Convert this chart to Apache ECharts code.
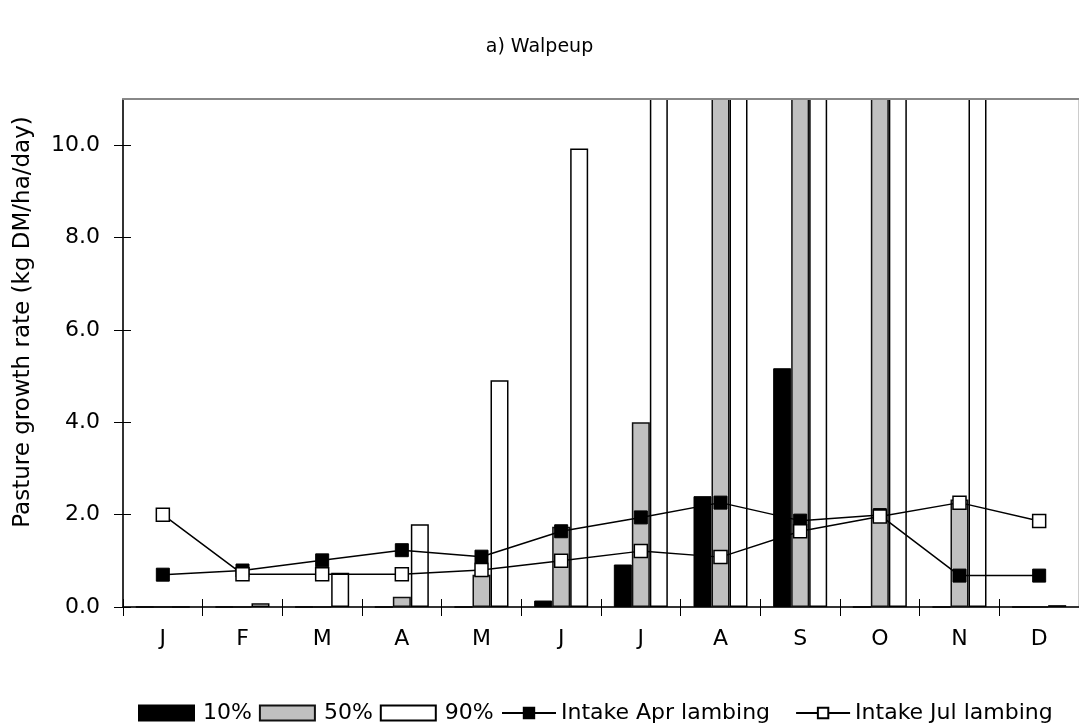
<!DOCTYPE html>
<html>
<head>
<meta charset="utf-8">
<script src="https://cdn.jsdelivr.net/npm/echarts@6/dist/echarts.min.js"></script>
<style>
html,body{margin:0;padding:0;background:#fff;}
#chart{width:1079px;height:726px;}
</style>
</head>
<body>
<div id="chart"></div>
<script>
// ---- data ----
const months = ['J','F','M','A','M','J','J','A','S','O','N','D'];
// percentile pasture growth rates; values above 11 run off the top of the plot
const p10 = [0, 0, 0, 0, 0, 0.14, 0.92, 2.40, 5.17, 0, 0, 0];
const p50 = [0, 0, 0, 0.22, 0.70, 1.74, 4.00, 14, 14, 14, 2.33, 0];
const p90 = [0, 0.08, 0.74, 1.79, 4.91, 9.93, 14, 14, 14, 14, 14, 0.04];
const intakeApr = [0.70, 0.79, 1.01, 1.23, 1.09, 1.64, 1.94, 2.26, 1.87, 1.99, 0.68, 0.68];
const intakeJul = [2.00, 0.71, 0.71, 0.71, 0.80, 1.00, 1.21, 1.08, 1.64, 1.96, 2.26, 1.86];
const yTicks = [0, 2, 4, 6, 8, 10];
const seriesNames = ['10%', '50%', '90%', 'Intake Apr lambing', 'Intake Jul lambing'];

const FONT = 'DejaVu Sans';
const chart = echarts.init(document.getElementById('chart'));

const barCommon = {type: 'bar', barWidth: 18, barGap: '0%', xAxisIndex: 0, yAxisIndex: 0};

chart.setOption({
  animation: false,
  backgroundColor: '#fff',
  textStyle: {fontFamily: FONT, color: '#000'},
  title: {
    text: 'a) Walpeup', left: 'center', top: 33,
    textStyle: {fontFamily: FONT, fontSize: 19, fontWeight: 'normal', color: '#000'}
  },
  grid: {left: 123, right: 0, top: 99, bottom: 119, show: true,
         borderColor: '#999', borderWidth: 1, backgroundColor: 'transparent'},
  legend: [
    {
      data: seriesNames.slice(0, 3).map(n => ({name: n, icon: 'rect'})), left: 133, top: 697,
      itemWidth: 55, itemHeight: 15, itemGap: 7,
      textStyle: {fontFamily: FONT, fontSize: 22, color: '#000', padding: [0, 0, 0, 4]}
    },
    {
      data: seriesNames.slice(3), left: 496, top: 697,
      itemWidth: 54, itemHeight: 13, itemGap: 25,
      textStyle: {fontFamily: FONT, fontSize: 22, color: '#000'}
    }
  ],
  xAxis: [
    {
      type: 'category', data: months, position: 'bottom',
      axisLine: {lineStyle: {color: '#000', width: 1.5}},
      axisTick: {show: true, length: 9, lineStyle: {color: '#000', width: 1}},
      axisLabel: {fontFamily: FONT, fontSize: 22, color: '#000', margin: 21},
      splitLine: {show: false}
    },
    {
      type: 'category', data: months, position: 'bottom',
      axisLine: {show: false},
      axisTick: {show: true, inside: true, length: 8, lineStyle: {color: '#000', width: 1}},
      axisLabel: {show: false},
      splitLine: {show: false}
    },
    {
      type: 'category', data: months, position: 'top', z: 10,
      axisLine: {show: true, lineStyle: {color: '#888', width: 2}},
      axisTick: {show: false},
      axisLabel: {show: false},
      splitLine: {show: false}
    }
  ],
  yAxis: [
    {
      type: 'value', min: 0, max: 11, interval: 2, position: 'left',
      axisLine: {show: true, lineStyle: {color: '#000', width: 1.5}},
      axisTick: {show: true, length: 9, customValues: yTicks, lineStyle: {color: '#000', width: 1}},
      axisLabel: {fontFamily: FONT, fontSize: 22, color: '#000', margin: 23,
                  customValues: yTicks, formatter: v => v.toFixed(1)},
      splitLine: {show: false}
    },
    {
      type: 'value', min: 0, max: 11, interval: 2, position: 'left',
      axisLine: {show: false},
      axisTick: {show: true, inside: true, length: 8, customValues: yTicks, lineStyle: {color: '#000', width: 1}},
      axisLabel: {show: false},
      splitLine: {show: false}
    }
  ],
  graphic: [{
    type: 'text', x: 23, y: 322, rotation: Math.PI / 2,
    style: {text: 'Pasture growth rate (kg DM/ha/day)', fontFamily: FONT, fontSize: 23,
            fill: '#000', align: 'center', verticalAlign: 'middle'}
  }],
  series: [
    Object.assign({}, barCommon, {name: seriesNames[0], data: p10,
      itemStyle: {color: '#000', borderColor: '#000', borderWidth: 1}}),
    Object.assign({}, barCommon, {name: seriesNames[1], data: p50,
      itemStyle: {color: '#c0c0c0', borderColor: '#111', borderWidth: 1.5}}),
    Object.assign({}, barCommon, {name: seriesNames[2], data: p90,
      itemStyle: {color: '#fff', borderColor: '#000', borderWidth: 1.5}}),
    {
      name: seriesNames[3], type: 'line', data: intakeApr, xAxisIndex: 0, yAxisIndex: 0,
      symbol: 'rect', symbolSize: 13, showAllSymbol: true, z: 5,
      lineStyle: {color: '#000', width: 1.5},
      itemStyle: {color: '#000', borderColor: '#000', borderWidth: 1}
    },
    {
      name: seriesNames[4], type: 'line', data: intakeJul, xAxisIndex: 0, yAxisIndex: 0,
      symbol: 'rect', symbolSize: 13, showAllSymbol: true, z: 5,
      lineStyle: {color: '#000', width: 1.5},
      itemStyle: {color: '#fff', borderColor: '#000', borderWidth: 1.5}
    }
  ]
});
</script>
</body>
</html>
